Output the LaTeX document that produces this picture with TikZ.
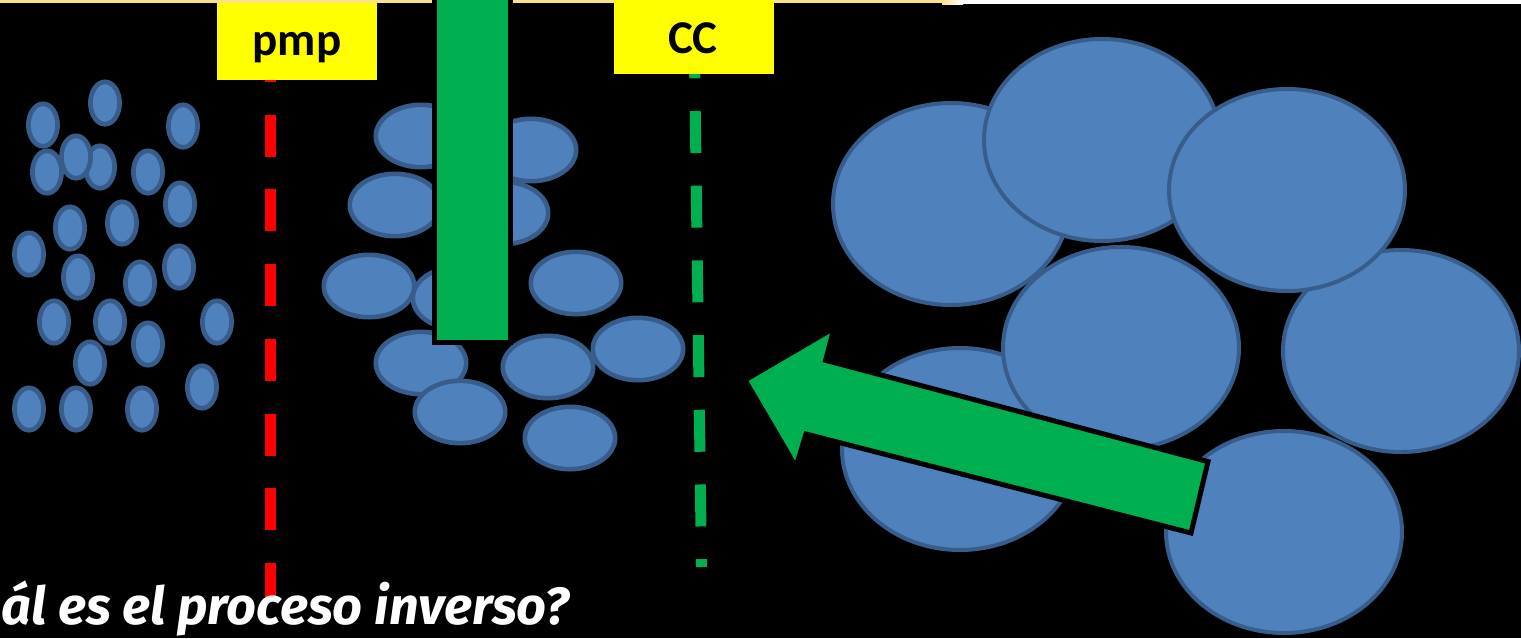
\documentclass[tikz,border=0pt]{standalone}
\usepackage{fontspec}
\usepackage{graphicx}
\setmainfont{Fira Sans}
\newfontfamily\labelfont{Carlito}
\definecolor{cellfill}{HTML}{4F81BD}
\definecolor{celledge}{HTML}{385D8A}
\definecolor{bargreen}{HTML}{00B050}
\definecolor{tagyellow}{HTML}{FFFF00}
\definecolor{topline}{RGB}{250,226,140}
\definecolor{limitred}{HTML}{FF0000}
\begin{document}
\begin{tikzpicture}[x=0.5pt,y=-0.5pt,
  smallcell/.style={fill=cellfill,draw=celledge,line width=2.35pt},
  midcell/.style={fill=cellfill,draw=celledge,line width=2.3pt},
  bigcell/.style={fill=cellfill,draw=celledge,line width=2pt},
  limitline/.style={line width=5.5pt,dash pattern=on 21pt off 16.35pt},
  tagbox/.style={fill=tagyellow},
  tagtext/.style={anchor=base,inner sep=0pt,font=\labelfont\bfseries\fontsize{23.5}{28}\selectfont},
  blockarrow/.style={fill=bargreen,draw=black,line width=2.5pt,line join=miter}]
\useasboundingbox (0,0) rectangle (1521,638);
\clip (0,0) rectangle (1521,638);
\fill[black] (0,0) rectangle (1521,638);
% thin strip along the top edge
\fill[topline] (0,0) rectangle (942,3);
\shade[left color=topline,right color=white] (942,0) rectangle (963,4);
\fill[white] (963,0) rectangle (1521,4);

% small dispersed particles
\foreach \cx/\cy in {43/125,105/103,183/126,47/172,100/167,76/157,148/172,180/204,
  70/228,122/223,29/254,78/277,140/283,179/267,54/322,110/322,217/322,148/344,
  90/363,202/387,29/409,76/409,142/409}
  \draw[smallcell] (\cx,\cy) ellipse [x radius=7.3pt,y radius=10.6pt];

% medium particles
\foreach \cx/\cy in {421/136,531/150,395/205,503/213,369/286,458/298,576/283,
  421/363,548/367,638/349,460/412,570/438}
  \draw[midcell] (\cx,\cy) ellipse [x radius=22.6pt,y radius=15.6pt];

% size limits
\draw[limitred,limitline] (270.5,40) -- (270.5,600);
\draw[bargreen,limitline] (694.2,36.3) -- (701.5,567);

% vertical bar
\filldraw[fill=bargreen,draw=black,line width=2.5pt] (434.5,-10) rectangle (510.5,342.5);

% tags
\fill[tagbox] (217,3) rectangle (377,80);
\node[tagtext] (pmp) at (297,55) {pmp};
\fill[tagbox] (614,0) rectangle (774,74);
\node[tagtext] (cc) at (693,53) {CC};

% large particles
\foreach \cx/\cy in {951/204,1102/140,1401/351,1287/190,960/449,1121/348,1284/532}
  \draw[bigcell] (\cx,\cy) ellipse [x radius=59pt,y radius=50.5pt];

% block arrow
\filldraw[blockarrow] (745,380) -- (834,328) -- (825.6,360.3) -- (1208,461.6)
  -- (1191,533) -- (806,434) -- (796,467) -- cycle;

% question
\node[anchor=base west,inner sep=0pt,text=white] (question) at (1,624)
  {\resizebox{284pt}{!}{\bfseries\itshape ál es el proceso inverso?}};
\end{tikzpicture}
\end{document}
